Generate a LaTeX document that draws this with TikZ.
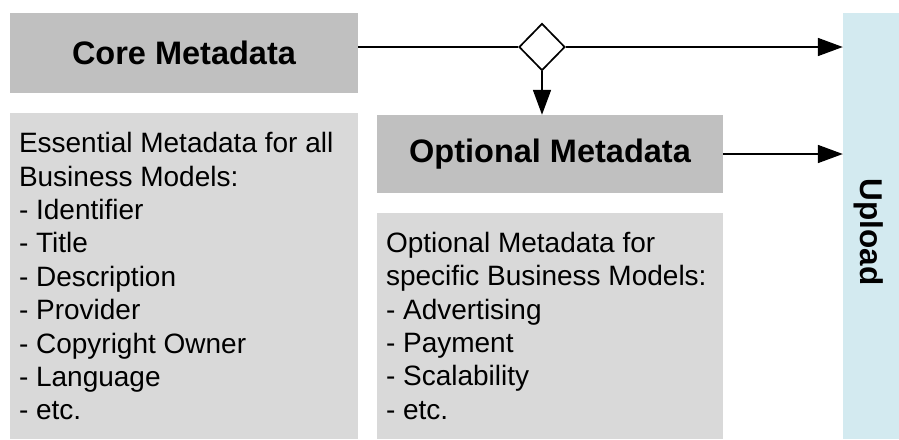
\documentclass[tikz,border=0pt]{standalone}
\usepackage{fontspec}
\setmainfont{Liberation Sans}
\usetikzlibrary{shapes.geometric,arrows.meta,calc}
\definecolor{headgray}{HTML}{C0C0C0}
\definecolor{listgray}{HTML}{D9D9D9}
\definecolor{uploadblue}{HTML}{D3EAF0}
\begin{document}
\begin{tikzpicture}[x=1pt,y=-1pt,
  headbox/.style={fill=headgray,draw=none,inner sep=0,minimum width=348pt,minimum height=80pt,
    font=\fontsize{32.5}{38}\selectfont\bfseries},
  listbox/.style={fill=listgray,draw=none,inner sep=0},
  listtext/.style={align=left,inner sep=0,anchor=north west,
    font=\fontsize{28}{33.4}\selectfont},
  flow/.style={line width=1.7pt,-{Triangle[length=25pt,width=18pt]}},
  gate/.style={diamond,draw,line width=1.7pt,fill=white,inner sep=0,
    minimum width=46pt,minimum height=47pt,aspect=1}]
  \useasboundingbox (0,0) rectangle (899,439);
  \fill[white] (0,0) rectangle (899,439);

  % Core metadata column
  \node[headbox] (core) at (184,53) {Core Metadata};
  \node[listbox,minimum width=348pt,minimum height=326pt] (corelist) at (184,276) {};
  \node[listtext] (coretext) at ($(corelist.north west)+(9,19.5)$)
    {Essential Metadata for all\\Business Models:\\- Identifier\\- Title\\- Description\\- Provider\\- Copyright Owner\\- Language\\- etc.};

  % Optional metadata column
  \node[headbox,minimum width=346pt,minimum height=78pt] (opt) at (550,154) {Optional Metadata};
  \node[listbox,minimum width=346pt,minimum height=226pt] (optlist) at (550,326) {};
  \node[listtext] (opttext) at ($(optlist.north west)+(9,19)$)
    {Optional Metadata for\\specific Business Models:\\- Advertising\\- Payment\\- Scalability\\- etc.};

  % Upload target
  \node[fill=uploadblue,draw=none,inner sep=0,minimum width=56pt,minimum height=426pt] (upload) at (871,226) {};
  \node[rotate=-90,font=\fontsize{31.5}{36}\selectfont\bfseries,inner sep=0] (uploadlabel) at (869,232) {Upload};

  % Decision gate
  \node[gate] (dia) at (542,47) {};

  % Connectors
  \draw[line width=1.7pt] (core.east |- dia.center) -- (dia.west);
  \draw[flow] (dia.east) -- (upload.west |- dia.center);
  \draw[flow] (dia.south) -- (dia.south |- opt.north);
  \draw[flow] (opt.east) -- (upload.west |- opt.east);
\end{tikzpicture}
\end{document}
